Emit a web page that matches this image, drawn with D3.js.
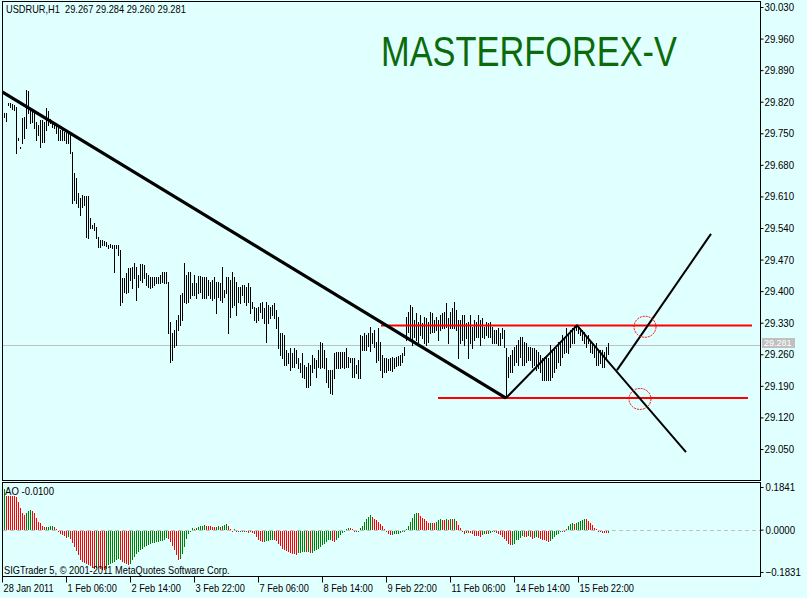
<!DOCTYPE html>
<html><head><meta charset="utf-8">
<script src="https://cdn.jsdelivr.net/npm/d3@7"></script>
<style>
body{margin:0;background:#e0ffff;}
svg{display:block;}
text{font-family:"Liberation Sans Narrow","Arial Narrow","Liberation Sans",sans-serif;}
</style>
</head><body><svg id="c" width="807" height="598"></svg>
<script>
const symbol = "USDRUR,H1";
const lastOHLC = [29.267, 29.284, 29.260, 29.281];
const titleText = "MASTERFOREX-V";
const copyright = "SIGTrader 5, © 2001-2011 MetaQuotes Software Corp.";
const aoLabel = "AO -0.0100";

const highs = [
29.795,29.795,29.817,29.817,29.815,29.813,29.808,29.739,29.719,29.784,
29.786,29.846,29.844,29.806,29.797,29.795,29.775,29.768,29.779,29.779,
29.775,29.806,29.799,29.782,29.775,29.773,29.768,29.762,29.757,29.757,
29.753,29.751,29.751,29.751,29.708,29.662,29.651,29.618,29.606,29.613,
29.611,29.611,29.611,29.562,29.547,29.551,29.542,29.520,29.513,29.513,
29.511,29.509,29.502,29.505,29.502,29.502,29.502,29.502,29.491,29.429,
29.429,29.440,29.451,29.451,29.454,29.462,29.454,29.436,29.460,29.460,
29.458,29.440,29.436,29.431,29.431,29.431,29.431,29.431,29.436,29.442,
29.442,29.442,29.420,29.332,29.307,29.314,29.336,29.347,29.391,29.396,
29.462,29.436,29.442,29.442,29.418,29.436,29.418,29.434,29.434,29.431,
29.431,29.431,29.425,29.420,29.425,29.431,29.420,29.420,29.418,29.454,
29.403,29.431,29.431,29.425,29.442,29.431,29.420,29.409,29.409,29.414,
29.414,29.409,29.418,29.409,29.376,29.365,29.363,29.365,29.374,29.376,
29.363,29.376,29.369,29.365,29.369,29.374,29.358,29.343,29.307,29.307,
29.303,29.270,29.263,29.274,29.263,29.274,29.270,29.252,29.241,29.263,
29.236,29.232,29.241,29.236,29.258,29.252,29.247,29.270,29.287,29.285,
29.270,29.252,29.225,29.225,29.225,29.263,29.265,29.265,29.265,29.265,
29.265,29.274,29.254,29.252,29.252,29.252,29.236,29.247,29.303,29.301,
29.307,29.303,29.307,29.321,29.307,29.314,29.287,29.318,29.287,29.258,
29.252,29.252,29.250,29.252,29.254,29.252,29.254,29.256,29.258,29.263,
29.276,29.343,29.354,29.369,29.365,29.336,29.352,29.332,29.347,29.329,
29.343,29.341,29.332,29.354,29.352,29.336,29.343,29.336,29.347,29.352,
29.354,29.374,29.341,29.354,29.363,29.376,29.358,29.336,29.336,29.347,
29.347,29.329,29.332,29.347,29.321,29.336,29.332,29.347,29.336,29.341,
29.321,29.332,29.329,29.332,29.321,29.314,29.314,29.318,29.307,29.318,
29.314,29.274,29.254,29.258,29.270,29.276,29.281,29.292,29.298,29.298,
29.287,29.285,29.276,29.276,29.274,29.274,29.270,29.265,29.258,29.252,
29.254,29.254,29.252,29.281,29.270,29.276,29.274,29.287,29.285,29.303,
29.298,29.318,29.307,29.314,29.318,29.323,29.324,29.323,29.318,29.314,
29.309,29.298,29.303,29.292,29.285,29.281,29.285,29.270,29.270,29.270,
29.265,29.276,29.284
];
const lows = [
29.786,29.777,29.813,29.808,29.804,29.802,29.706,29.735,29.717,29.728,
29.739,29.762,29.795,29.773,29.775,29.762,29.735,29.746,29.719,29.730,
29.730,29.757,29.768,29.773,29.764,29.762,29.751,29.735,29.735,29.735,
29.735,29.728,29.728,29.706,29.595,29.602,29.595,29.587,29.569,29.587,
29.591,29.520,29.518,29.540,29.540,29.536,29.518,29.498,29.498,29.502,
29.502,29.500,29.496,29.498,29.496,29.442,29.496,29.480,29.369,29.376,
29.398,29.396,29.398,29.425,29.407,29.429,29.380,29.409,29.425,29.420,
29.429,29.414,29.409,29.407,29.409,29.414,29.418,29.418,29.418,29.420,
29.418,29.418,29.307,29.243,29.247,29.276,29.281,29.314,29.325,29.336,
29.376,29.374,29.376,29.385,29.391,29.391,29.385,29.396,29.398,29.385,
29.385,29.385,29.391,29.385,29.380,29.385,29.352,29.387,29.380,29.376,
29.387,29.396,29.307,29.343,29.365,29.369,29.347,29.376,29.374,29.391,
29.376,29.369,29.376,29.352,29.363,29.336,29.332,29.336,29.354,29.341,
29.329,29.287,29.329,29.341,29.347,29.341,29.318,29.274,29.258,29.252,
29.236,29.236,29.241,29.225,29.232,29.232,29.241,29.230,29.221,29.210,
29.207,29.187,29.187,29.192,29.221,29.230,29.210,29.232,29.230,29.232,
29.230,29.199,29.187,29.174,29.172,29.207,29.230,29.230,29.230,29.232,
29.230,29.232,29.232,29.243,29.210,29.210,29.218,29.207,29.207,29.270,
29.270,29.270,29.278,29.267,29.285,29.276,29.243,29.247,29.225,29.210,
29.221,29.221,29.225,29.225,29.223,29.230,29.234,29.236,29.236,29.243,
29.258,29.292,29.309,29.292,29.281,29.298,29.292,29.287,29.303,29.296,
29.285,29.281,29.287,29.307,29.309,29.309,29.314,29.292,29.314,29.318,
29.318,29.321,29.285,29.318,29.318,29.318,29.314,29.252,29.285,29.292,
29.281,29.296,29.252,29.285,29.274,29.292,29.298,29.298,29.281,29.298,
29.296,29.303,29.298,29.298,29.285,29.285,29.285,29.281,29.281,29.296,
29.276,29.163,29.210,29.221,29.221,29.236,29.243,29.236,29.254,29.236,
29.236,29.243,29.247,29.247,29.232,29.236,29.225,29.230,29.221,29.203,
29.203,29.203,29.203,29.203,29.210,29.221,29.230,29.243,29.236,29.254,
29.263,29.265,29.263,29.276,29.285,29.285,29.314,29.307,29.303,29.292,
29.285,29.276,29.285,29.265,29.263,29.254,29.236,29.236,29.241,29.232,
29.232,29.252,29.260
];
const ao = [
0.1742,0.1454,0.1450,0.1446,0.1442,0.1438,0.1426,0.1195,0.0950,0.0734,
0.0634,0.0720,0.0806,0.0835,0.0806,0.0734,0.0518,0.0331,0.0302,0.0158,
0.0101,0.0115,0.0130,0.0144,0.0158,0.0130,0.0043,-0.0058,-0.0130,-0.0202,
-0.0245,-0.0317,-0.0274,-0.0360,-0.0533,-0.0706,-0.0893,-0.1066,-0.1253,-0.1339,
-0.1382,-0.1426,-0.1498,-0.1541,-0.1598,-0.1642,-0.1598,-0.1613,-0.1656,-0.1685,
-0.1714,-0.1642,-0.1498,-0.1426,-0.1382,-0.1339,-0.1282,-0.1238,-0.1282,-0.1354,
-0.1397,-0.1426,-0.1498,-0.1454,-0.1282,-0.1138,-0.1022,-0.0922,-0.0850,-0.0778,
-0.0706,-0.0648,-0.0605,-0.0562,-0.0533,-0.0518,-0.0504,-0.0490,-0.0461,-0.0446,
-0.0389,-0.0302,-0.0346,-0.0490,-0.0662,-0.0850,-0.1066,-0.1253,-0.1224,-0.1022,
-0.0706,-0.0346,-0.0158,-0.0058,0.0086,0.0043,0.0086,0.0115,0.0144,0.0158,
0.0187,0.0173,0.0158,0.0144,0.0130,0.0115,0.0130,0.0144,0.0130,0.0158,
0.0187,0.0230,0.0158,0.0043,-0.0005,0.0014,-0.0029,-0.0058,-0.0014,-0.0043,
-0.0029,-0.0058,-0.0086,-0.0072,-0.0094,-0.0158,-0.0274,-0.0389,-0.0461,-0.0490,
-0.0475,-0.0461,-0.0432,-0.0418,-0.0389,-0.0418,-0.0461,-0.0562,-0.0677,-0.0778,
-0.0850,-0.0893,-0.0922,-0.0965,-0.0994,-0.1022,-0.1037,-0.0965,-0.0950,-0.0936,
-0.0922,-0.0936,-0.0907,-0.0965,-0.0950,-0.0878,-0.0821,-0.0778,-0.0706,-0.0634,
-0.0562,-0.0490,-0.0418,-0.0389,-0.0446,-0.0490,-0.0418,-0.0302,-0.0202,-0.0101,
-0.0014,0.0043,0.0086,0.0079,0.0043,-0.0014,-0.0058,-0.0029,0.0058,0.0158,
0.0331,0.0446,0.0562,0.0619,0.0562,0.0475,0.0418,0.0331,0.0259,0.0158,
0.0043,-0.0058,-0.0158,-0.0187,-0.0173,-0.0158,-0.0144,-0.0130,-0.0101,-0.0072,
-0.0029,0.0043,0.0158,0.0346,0.0518,0.0662,0.0734,0.0706,0.0590,0.0490,
0.0446,0.0374,0.0288,0.0302,0.0288,0.0274,0.0331,0.0418,0.0446,0.0432,
0.0418,0.0446,0.0432,0.0461,0.0446,0.0475,0.0389,0.0202,0.0058,-0.0005,
-0.0130,-0.0086,-0.0101,-0.0115,-0.0158,-0.0230,-0.0245,-0.0252,-0.0259,-0.0173,
-0.0130,-0.0158,-0.0130,-0.0101,-0.0058,-0.0072,-0.0101,-0.0158,-0.0202,-0.0274,
-0.0346,-0.0461,-0.0562,-0.0634,-0.0605,-0.0562,-0.0418,-0.0389,-0.0302,-0.0245,
-0.0259,-0.0288,-0.0245,-0.0288,-0.0346,-0.0302,-0.0274,-0.0302,-0.0346,-0.0389,
-0.0418,-0.0461,-0.0504,-0.0461,-0.0346,-0.0274,-0.0202,-0.0130,-0.0043,-0.0058,
-0.0072,0.0014,0.0158,0.0230,0.0274,0.0259,0.0302,0.0346,0.0374,0.0418,
0.0475,0.0446,0.0374,0.0302,0.0187,0.0086,0.0014,-0.0029,-0.0058,-0.0086,
-0.0101,-0.0115,-0.0100
];
const timeLabels = ["28 Jan 2011","1 Feb 06:00","2 Feb 14:00","3 Feb 22:00","7 Feb 06:00","8 Feb 14:00","9 Feb 22:00","11 Feb 06:00","14 Feb 14:00","15 Feb 22:00"];
const barsPerLabel = 32;
const priceTicks = [30.030,29.960,29.890,29.820,29.750,29.680,29.610,29.540,29.470,29.400,29.330,29.260,29.190,29.120,29.050];
const aoTicks = [0.1841, 0.0000, -0.1831];
// annotations: [bar index, price]
const trendLine = [[0,29.842],[252,29.163]];
const zigzag = [[252,29.163],[287.5,29.324],[342,29.043]];
const projection = [[307.5,29.225],[354.5,29.527]];
const levels = [{price:29.324, from:189.5, to:375},{price:29.163, from:218, to:373}];
const circles = [[321.5,29.321],[319,29.161]];

const svg = d3.select("#c");
const W = 807;
const L = 2.5, R = 760.5, mainTop = 1.5, mainBot = 480.5, aoTop = 482.5, aoBot = 576.5;

const x = d3.scaleLinear().domain([0, 304]).range([2, 610]);
const y = d3.scaleLinear().domain([29.050, 30.030]).range([449, 7]);
const ya = d3.scaleLinear().domain([-0.1831, 0.1841]).range([572, 487]);

// horizontally condense text (the reference uses a narrow screen font)
function squeeze(sel, f) {
  sel.each(function() {
    const l = this.getComputedTextLength();
    if (l > 0) {
      this.setAttribute("textLength", (l * f).toFixed(1));
      this.setAttribute("lengthAdjust", "spacingAndGlyphs");
    }
  });
}

svg.append("rect").attr("width", W).attr("height", 598).attr("fill", "#e0ffff");

const defs = svg.append("defs");
defs.append("clipPath").attr("id","mainclip").append("rect")
  .attr("x", 3).attr("y", 2).attr("width", 757).attr("height", 478);

const main = svg.append("g").attr("clip-path","url(#mainclip)");

// current price line
const cp = lastOHLC[3];
main.append("line").attr("x1", 3).attr("x2", 760)
  .attr("y1", Math.round(y(cp)) + 0.5).attr("y2", Math.round(y(cp)) + 0.5)
  .attr("stroke", "#c0c0c0").attr("stroke-width", 1);

// price bars
main.append("g").selectAll("rect").data(highs.map((h,i)=>({i:i+1,h:h,l:lows[i]})))
  .join("rect")
  .attr("x", d => Math.round(x(d.i)))
  .attr("width", 1)
  .attr("y", d => Math.round(y(d.h)))
  .attr("height", d => Math.max(1, Math.round(y(d.l)) - Math.round(y(d.h)) + 1))
  .attr("fill", "#000");

const line = d3.line().x(d => x(d[0])).y(d => y(d[1]));
// red levels
levels.forEach(lv => {
  main.append("line").attr("x1", x(lv.from)).attr("x2", x(lv.to))
    .attr("y1", y(lv.price)).attr("y2", y(lv.price))
    .attr("stroke", "#ff0000").attr("stroke-width", 2);
});
main.append("path").attr("d", line(trendLine)).attr("fill","none").attr("stroke","#000").attr("stroke-width",3.2);
main.append("path").attr("d", line(zigzag)).attr("fill","none").attr("stroke","#000").attr("stroke-width",2).attr("stroke-linejoin","miter");
main.append("path").attr("d", line(projection)).attr("fill","none").attr("stroke","#000").attr("stroke-width",2);
circles.forEach(c => {
  main.append("ellipse").attr("cx", x(c[0])).attr("cy", y(c[1])).attr("rx", 11).attr("ry", 10.5)
    .attr("fill","none").attr("stroke","#ff0000").attr("stroke-width",1).attr("stroke-dasharray","2,1");
});

// title
svg.append("text").attr("x", 381).attr("y", 66).attr("font-size", 42)
  .attr("fill", "#0b6b0b").attr("textLength", 296).attr("lengthAdjust", "spacingAndGlyphs")
  .text(titleText);

// header
const hdr = svg.append("text").attr("x", 6).attr("y", 13).attr("font-size", 11).attr("fill","#000")
  .style("white-space","pre")
  .text(symbol + "  " + lastOHLC.map(v => v.toFixed(3)).join(" "));
squeeze(hdr, 0.84);

// price axis
const pAxis = svg.append("g").attr("transform", "translate(760.5,0)")
  .call(d3.axisRight(y).tickValues(priceTicks).tickFormat(d3.format(".3f")).tickSize(3).tickPadding(1));
pAxis.select(".domain").remove();
pAxis.attr("font-family", null).attr("font-size", 11);
pAxis.selectAll("text").attr("fill","#000");
pAxis.selectAll("line").attr("stroke","#000");
squeeze(pAxis.selectAll("text"), 0.88);

// current price label
const cpy = Math.round(y(cp));
svg.append("rect").attr("x", 762).attr("y", cpy - 7).attr("width", 33).attr("height", 10).attr("fill", "#c0c0c0");
const cpl = svg.append("text").attr("x", 764).attr("y", cpy + 1).attr("font-size", 9).attr("fill", "#fff").text(cp.toFixed(3));
squeeze(cpl, 1.0);

// AO panel
const aoG = svg.append("g");
const zeroY = Math.round(ya(0)) + 0.5;
aoG.append("line").attr("x1", 3).attr("x2", 760).attr("y1", zeroY).attr("y2", zeroY)
  .attr("stroke","#c0c0c0").attr("stroke-dasharray","4,3");
aoG.selectAll("rect").data(ao.map((v,i)=>({i:i+1, v:v, up: i===0 ? true : v > ao[i-1]})))
  .join("rect")
  .attr("x", d => Math.round(x(d.i)))
  .attr("width", 1)
  .attr("y", d => d.v >= 0 ? Math.round(ya(d.v)) : Math.round(ya(0)) + 1)
  .attr("height", d => Math.max(1, Math.abs(Math.round(ya(d.v)) - Math.round(ya(0)))))
  .attr("fill", d => d.up ? "#008000" : "#ff0000");

const aAxis = svg.append("g").attr("transform", "translate(760.5,0)")
  .call(d3.axisRight(ya).tickValues(aoTicks).tickFormat(d3.format(".4f")).tickSize(3).tickPadding(2));
aAxis.select(".domain").remove();
aAxis.attr("font-family", null).attr("font-size", 11);
aAxis.selectAll("text").attr("fill","#000");
squeeze(aAxis.selectAll("text"), 0.88);

const aol = svg.append("text").attr("x", 5).attr("y", 495).attr("font-size", 11).attr("fill","#000").text(aoLabel);
squeeze(aol, 0.87);
const cpr = svg.append("text").attr("x", 4).attr("y", 574).attr("font-size", 11).attr("fill","#000").text(copyright);
squeeze(cpr, 0.84);

// frames
svg.append("rect").attr("x", L).attr("y", mainTop).attr("width", R - L).attr("height", mainBot - mainTop)
  .attr("fill","none").attr("stroke","#000");
svg.append("rect").attr("x", L).attr("y", aoTop).attr("width", R - L).attr("height", aoBot - aoTop)
  .attr("fill","none").attr("stroke","#000");

// time axis
const tIdx = timeLabels.map((t,k) => k * barsPerLabel);
const tAxis = svg.append("g").attr("transform", "translate(0," + aoBot + ")")
  .call(d3.axisBottom(x).tickValues(tIdx).tickFormat((d,k) => timeLabels[k]).tickSize(6).tickPadding(2));
tAxis.select(".domain").remove();
tAxis.attr("font-family", null).attr("font-size", 11);
tAxis.selectAll(".tick line").attr("stroke","#000");
tAxis.selectAll(".tick").attr("transform", d => "translate(" + (Math.round(x(d)) + 0.5) + ",0)");
tAxis.selectAll("text").attr("text-anchor","start").attr("x", 1).attr("fill","#000");
squeeze(tAxis.selectAll("text"), 0.84);
</script>
</body></html>
